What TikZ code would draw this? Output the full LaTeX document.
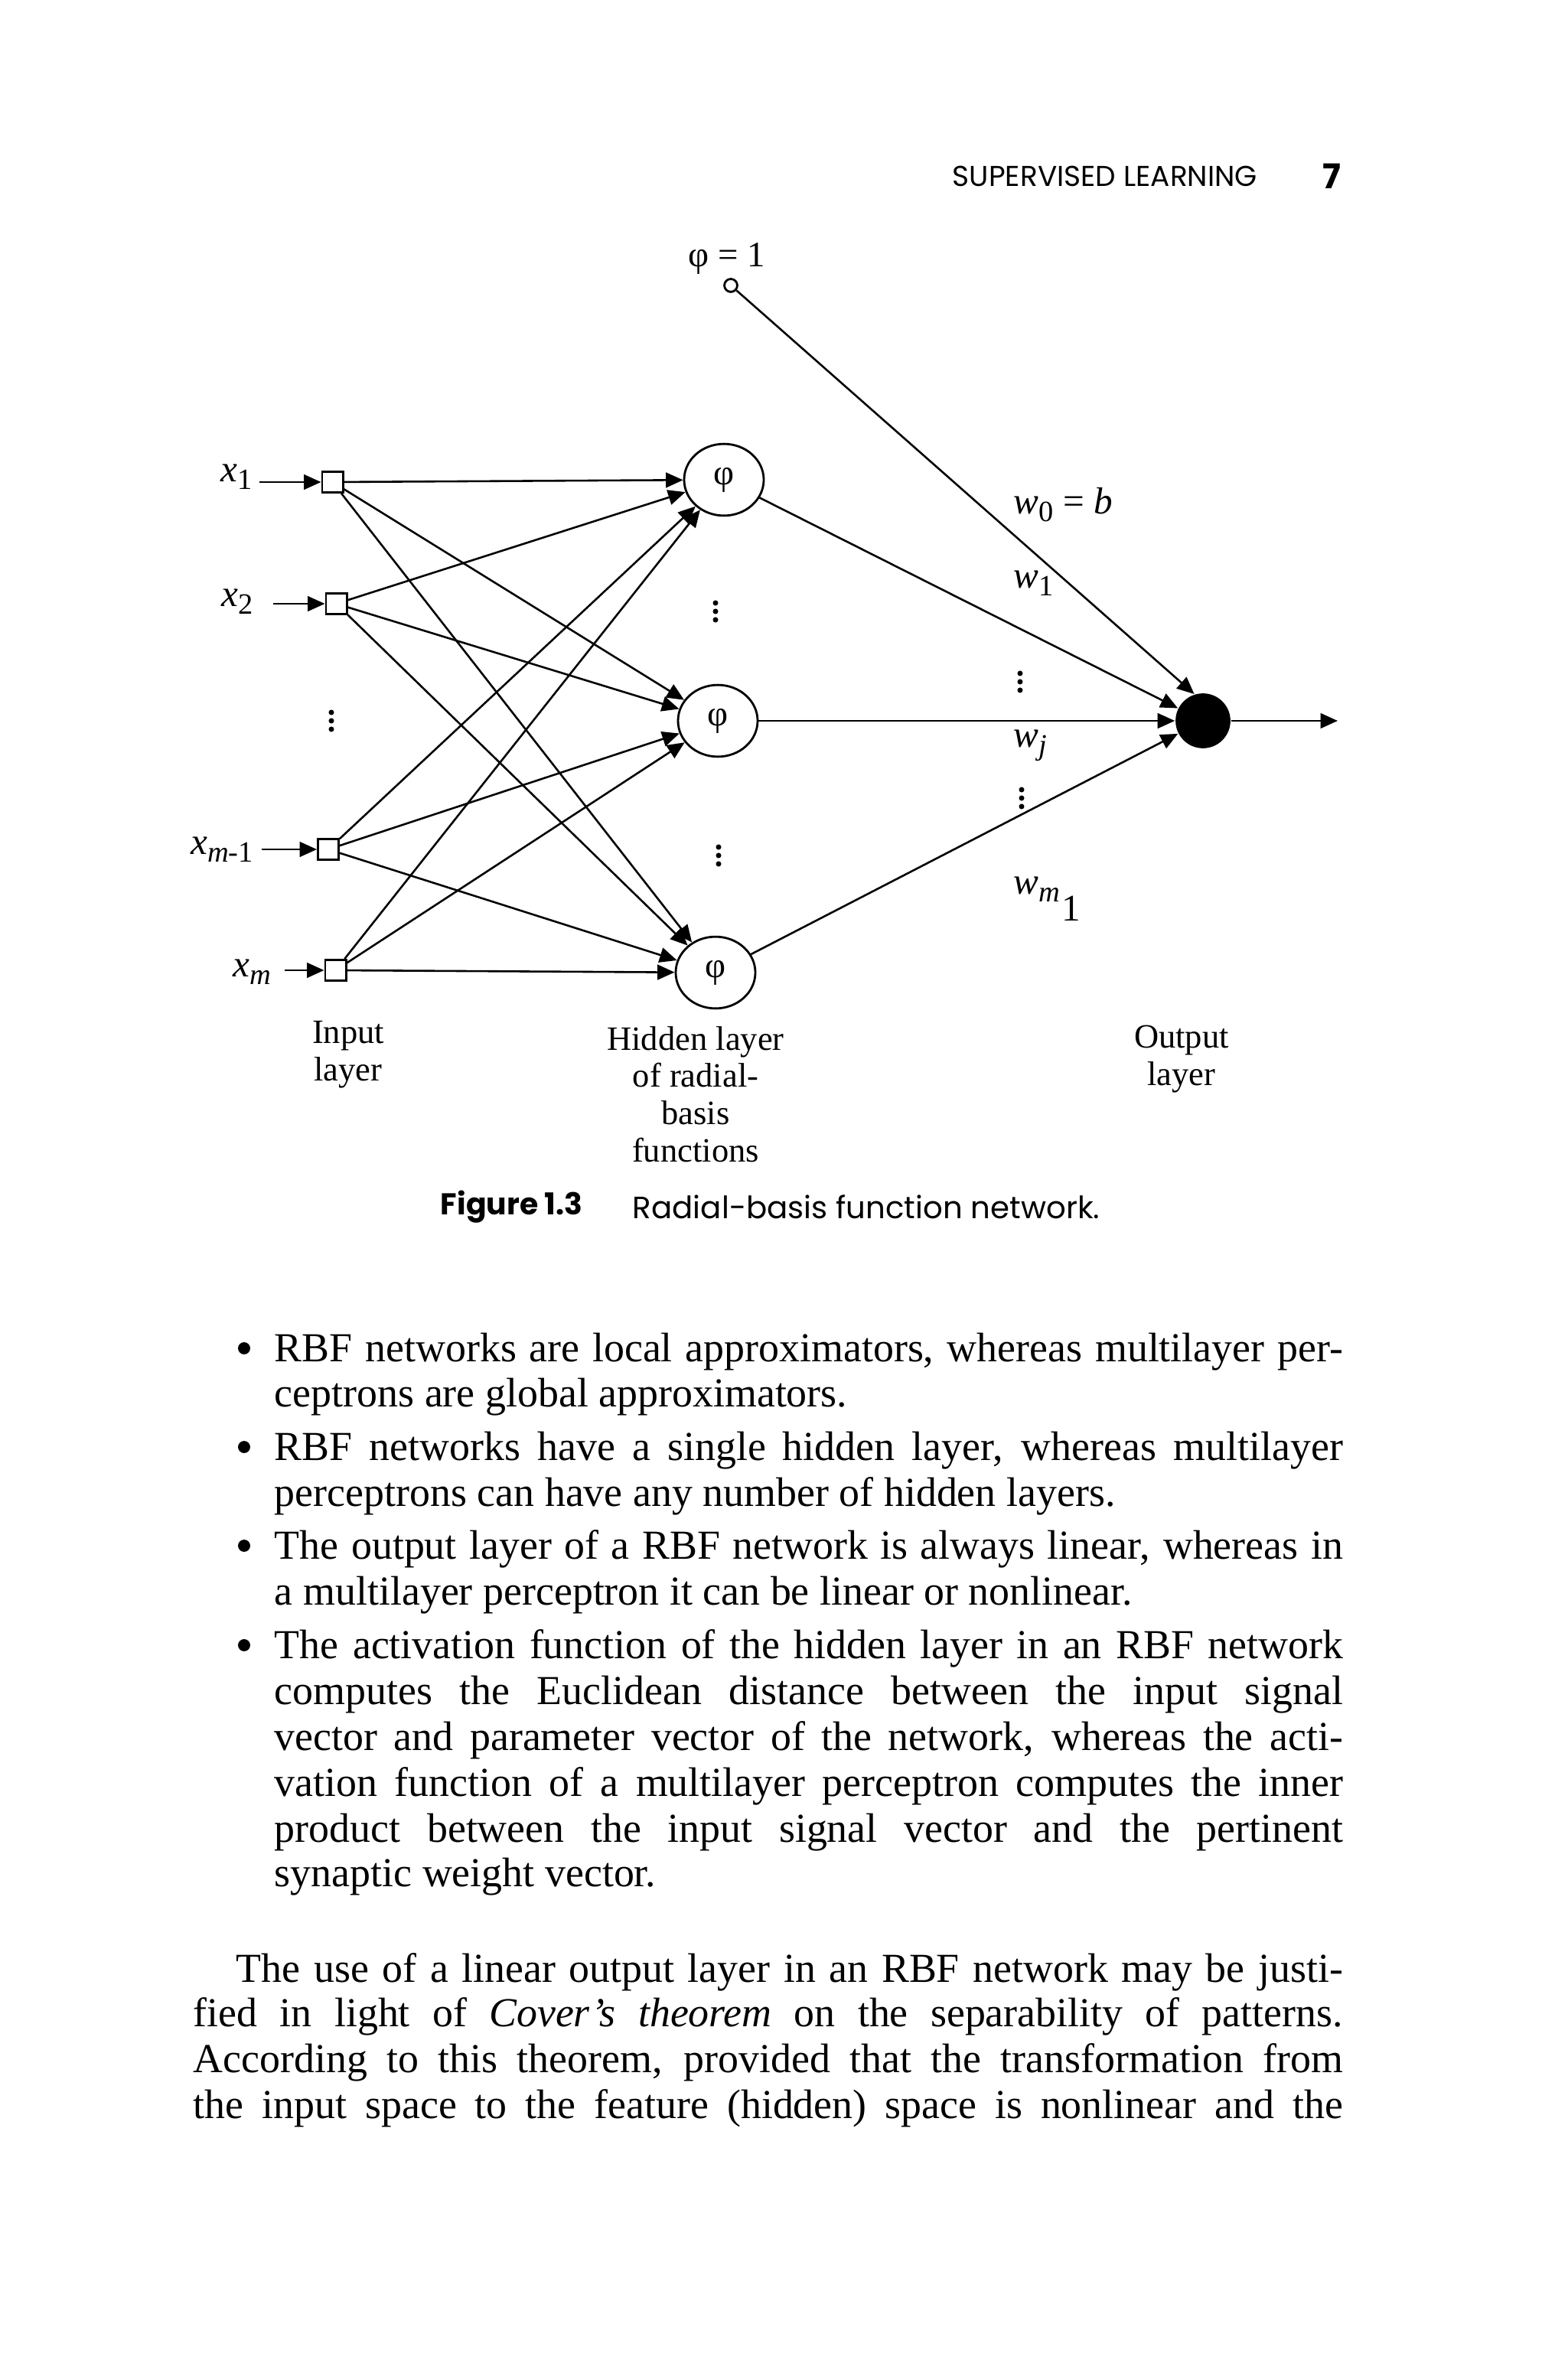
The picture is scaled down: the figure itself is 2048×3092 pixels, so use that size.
\documentclass[tikz,border=0pt]{standalone}
\usepackage{fontspec}
\setmainfont{Liberation Serif}
\newfontfamily\capfont{Poppins}
\usetikzlibrary{arrows.meta,shapes.geometric}
\newlength\px \setlength\px{0.075mm}
\newcommand\vdotsat[2]{\foreach \k in {-11,0,11} \fill (#1,#2+\k) circle (0.75pt);}
\newcommand\sbs[1]{\raisebox{-0.45ex}{\fontsize{8.2}{9}\selectfont #1}}
\tikzset{
 conn/.style={line width=0.55pt, -{Triangle[length=4.8pt,width=4.2pt]}},
 inbox/.style={draw, rectangle, line width=0.6pt, minimum size=5.8pt, inner sep=0},
 hid/.style={draw, ellipse, line width=0.6pt, minimum width=22.2pt, minimum height=20pt, inner sep=0, font=\fontsize{10}{12}\selectfont},
 outn/.style={circle, fill=black, minimum size=15.3pt, inner sep=0},
 bias/.style={circle, draw, line width=0.6pt, minimum size=3.6pt, inner sep=0},
 lbl/.style={inner sep=0, font=\fontsize{10.5}{12}\selectfont},
 layerlbl/.style={align=center, inner sep=0, font=\fontsize{9.5}{10.4}\selectfont},
 body/.style={anchor=base west, inner sep=0, font=\fontsize{11.5}{13}\selectfont},
 bul/.style={circle, fill=black, minimum size=3.4pt, inner sep=0},
 capt/.style={inner sep=0, font=\capfont\fontsize{8.6}{10}\selectfont},
}
\begin{document}
\begin{tikzpicture}[x=0.075mm, y=-0.075mm]
\useasboundingbox (0,0) rectangle (2048,3092);
\fill[white] (0,0) rectangle (2048,3092);

% header
\node[capt, anchor=west, font=\capfont\fontsize{8}{9}\selectfont] (hdr) at (1244,230) {SUPERVISED LEARNING};
\node[capt, anchor=east, font=\capfont\bfseries\fontsize{9.5}{10}\selectfont] (pg) at (1753,230) {7};

% input nodes
\node[inbox] (i1) at (434.5,630) {};
\node[inbox] (i2) at (439.5,789) {};
\node[inbox] (i3) at (429,1110) {};
\node[inbox] (i4) at (438.5,1268) {};

% hidden nodes
\node[hid] (h1) at (946,627) {φ};
\node[hid] (h2) at (938,942) {φ};
\node[hid] (h3) at (935,1271) {φ};

% output
\node[outn] (out) at (1572,942) {};
\coordinate (oend) at (1748,942);

% bias
\node[bias] (b) at (955,373) {};
\node[lbl, font=\fontsize{10}{12}\selectfont] (blbl) at (950,338) {φ = 1};

% input labels and arrows
\node[lbl] (lx1) at (309,623) {\textit{x}\sbs{1}};
\node[lbl] (lx2) at (310,786) {\textit{x}\sbs{2}};
\node[lbl] (lx3) at (290,1110) {\textit{x}\sbs{\textit{m}-1}};
\node[lbl] (lx4) at (329,1270) {\textit{x}\sbs{\textit{m}}};
\coordinate (a1) at (339,630);
\coordinate (a2) at (357,789);
\coordinate (a3) at (342,1110);
\coordinate (a4) at (372,1268);
\draw[conn] (a1) -- (i1);
\draw[conn] (a2) -- (i2);
\draw[conn] (a3) -- (i3);
\draw[conn] (a4) -- (i4);

% input -> hidden
\foreach \i in {i1,i2,i3,i4}
  \foreach \h in {h1,h2,h3}
    \draw[conn] (\i) -- (\h);

% hidden -> output
\draw[conn] (h1) -- (out);
\draw[conn] (h2) -- (out);
\draw[conn] (h3) -- (out);
\draw[conn] (b) -- (out.108);
\draw[conn] (out) -- (oend);

% dots
\vdotsat{433}{942}
\vdotsat{935}{799}
\vdotsat{939}{1118}
\vdotsat{1333}{891}
\vdotsat{1335}{1043}

% weight labels
\node[lbl, anchor=west] (w0) at (1324,660) {\textit{w}\sbs{0} = \textit{b}};
\node[lbl, anchor=west] (w1) at (1324,762) {\textit{w}\sbs{1}};
\node[lbl, anchor=west] (wj) at (1324,974) {\textit{w}\sbs{\textit{j}}};
\node[lbl, anchor=west, anchor=base west] (wm) at (1324,1168) {\textit{w}\sbs{\textit{m}}\hspace{0.5pt}\raisebox{-7.5pt}{1}};

% layer labels
\node[layerlbl] (linput) at (455,1378) {Input\\layer};
\node[layerlbl] (lhidden) at (909,1430) {Hidden layer\\of radial-\\basis\\functions};
\node[layerlbl] (loutput) at (1544,1384) {Output\\layer};

% caption
\node[capt, anchor=west, font=\capfont\bfseries\fontsize{8.4}{10}\selectfont] (fig) at (575,1577) {Figure 1.3};
\node[capt, anchor=west] (figt) at (826,1577) {Radial-basis function network.};

% bullets
\node[bul] (b1) at (319,1762) {};
\node[body] (t1) at (358,1779) {\makebox[1396\px][s]{RBF networks are local approximators, whereas multilayer per-}};
\node[body] (t2) at (358,1838) {ceptrons are global approximators.};
\node[bul] (b2) at (319,1891) {};
\node[body] (t3) at (358,1908) {\makebox[1396\px][s]{RBF networks have a single hidden layer, whereas multilayer}};
\node[body] (t4) at (358,1968) {perceptrons can have any number of hidden layers.};
\node[bul] (b3) at (319,2020) {};
\node[body] (t5) at (358,2037) {\makebox[1396\px][s]{The output layer of a RBF network is always linear, whereas in}};
\node[body] (t6) at (358,2097) {a multilayer perceptron it can be linear or nonlinear.};
\node[bul] (b4) at (319,2150) {};
\node[body] (t7) at (358,2167) {\makebox[1396\px][s]{The activation function of the hidden layer in an RBF network}};
\node[body] (t8) at (358,2227) {\makebox[1396\px][s]{computes the Euclidean distance between the input signal}};
\node[body] (t9) at (358,2287) {\makebox[1396\px][s]{vector and parameter vector of the network, whereas the acti-}};
\node[body] (t10) at (358,2347) {\makebox[1396\px][s]{vation function of a multilayer perceptron computes the inner}};
\node[body] (t11) at (358,2407) {\makebox[1396\px][s]{product between the input signal vector and the pertinent}};
\node[body] (t12) at (358,2465) {synaptic weight vector.};

% paragraph
\node[body] (p1) at (308,2590) {\makebox[1446\px][s]{The use of a linear output layer in an RBF network may be justi-}};
\node[body] (p2) at (252,2648) {\makebox[1502\px][s]{fied in light of \textit{Cover’s theorem} on the separability of patterns.}};
\node[body] (p3) at (252,2708) {\makebox[1502\px][s]{According to this theorem, provided that the transformation from}};
\node[body] (p4) at (252,2768) {\makebox[1502\px][s]{the input space to the feature (hidden) space is nonlinear and the}};
\end{tikzpicture}
\end{document}
